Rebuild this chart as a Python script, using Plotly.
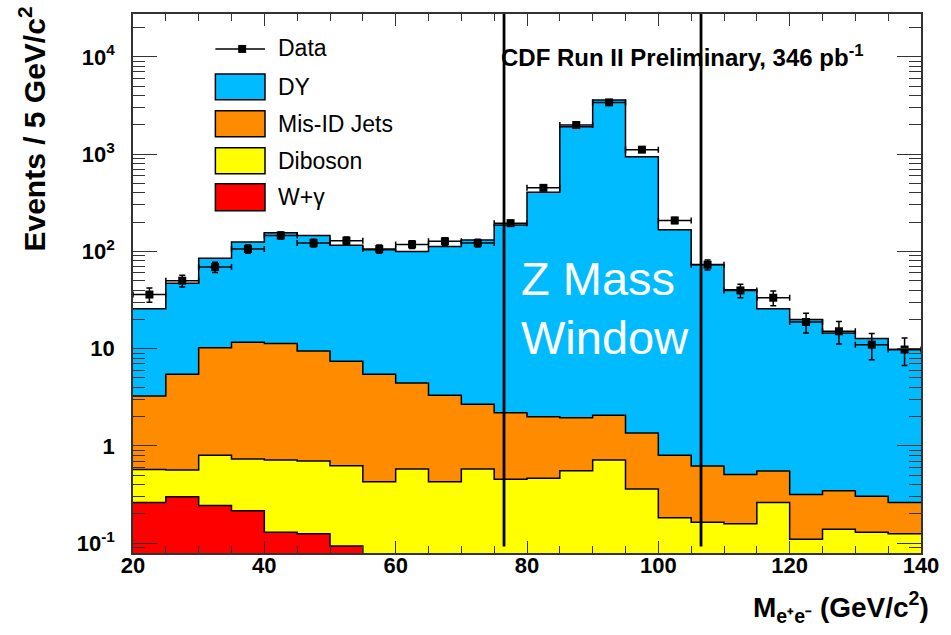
import numpy as np
import plotly.graph_objects as go

# ---------------- data ----------------
bin_edges = list(range(20, 145, 5))          # 25 edges, 24 bins of 5 GeV/c^2
bin_centers = [e + 2.5 for e in bin_edges[:-1]]

wgamma = [0.263, 0.30, 0.245, 0.216, 0.13, 0.125, 0.094, 0, 0, 0, 0, 0,
          0, 0, 0, 0, 0, 0, 0, 0, 0, 0, 0, 0]
diboson = [0.311, 0.265, 0.56, 0.517, 0.588, 0.575, 0.531, 0.428, 0.58, 0.428, 0.58, 0.454,
           0.465, 0.556, 0.718, 0.361, 0.183, 0.164, 0.159, 0.263, 0.11, 0.139, 0.13, 0.125]
misid = [2.68, 4.9, 9.4, 10.9, 10.6, 8.77, 6.8, 5.03, 3.87, 2.89, 2.11, 1.74,
         1.53, 1.39, 1.35, 1.0, 0.622, 0.457, 0.351, 0.289, 0.208, 0.208, 0.175, 0.138]
dy = [22.5, 41.5, 75, 113, 144, 136, 108, 98.5, 95.5, 108.7, 128.3, 184.8,
      403, 1912, 3592, 940.6, 166.2, 72.8, 39.9, 25.2, 19.6, 14.15, 12.4, 9.54]

data_vals = [36, 50, 69, 106, 146, 122, 129, 106, 118, 127, 122, 195,
             450, 1990, 3400, 1111, 208, 73, 39.7, 33.4, 18.8, 15.1, 11.0, 9.8]
data_errs = [6, 7, 8.3, 10.3, 12.1, 11, 11.4, 10.3, 10.9, 11.3, 11, 14,
             21, 45, 58, 33, 14.4, 8.5, 6.3, 5.8, 4.3, 3.9, 3.3, 3.1]

components = [("W+γ", wgamma, "#FF0000"),
              ("Diboson", diboson, "#FFFF00"),
              ("Mis-ID Jets", misid, "#FF8C00"),
              ("DY", dy, "#00BBFF")]

z_window = [76.5, 106.5]
y_tickvals = [0.1, 1, 10, 100, 1000, 10000]
y_ticktext = ["10<sup>-1</sup>", "1", "10", "10<sup>2</sup>", "10<sup>3</sup>", "10<sup>4</sup>"]
x_tickvals = [20, 40, 60, 80, 100, 120, 140]

# ---------------- figure ----------------
W, H = 951, 635
L, R, T, B = 133, 24, 13, 82
pw, ph = W - L - R, H - T - B
FONT = "Liberation Sans, Arial, sans-serif"


def px(x):
    return (x - L) / pw


def py(y):
    return (H - B - y) / ph


FLOOR = 1e-3
fig = go.Figure()

# baseline (below visible range) for stacked fills
fig.add_trace(go.Scatter(x=bin_edges, y=[FLOOR] * len(bin_edges), mode="lines",
                         line=dict(width=0, shape="hv"), hoverinfo="skip", showlegend=False))

cum = np.zeros(len(bin_centers))
for name, vals, col in components:
    cum = cum + np.array(vals, dtype=float)
    top = np.maximum(cum, FLOOR)
    yy = list(top) + [top[-1]]
    fig.add_trace(go.Scatter(x=bin_edges, y=yy, mode="lines", name=name,
                             line=dict(color="black", width=1.5, shape="hv"),
                             fill="tonexty", fillcolor=col, showlegend=False))

# data points
fig.add_trace(go.Scatter(
    x=bin_centers, y=data_vals, mode="markers", name="Data",
    marker=dict(symbol="square", size=8, color="black"),
    error_x=dict(type="constant", value=2.5, color="black", thickness=1.5, width=3),
    error_y=dict(type="data", array=data_errs, color="black", thickness=1.5, width=3),
    showlegend=False))

shapes = []
# Z mass window lines
for xv in z_window:
    shapes.append(dict(type="line", xref="x", yref="paper", x0=xv, x1=xv, y0=0.012, y1=1,
                       line=dict(color="black", width=2.8)))

# custom legend
leg_x0, leg_x1 = px(216), px(266)
shapes.append(dict(type="line", xref="paper", yref="paper", x0=leg_x0, x1=leg_x1,
                   y0=py(48), y1=py(48), line=dict(color="black", width=1.5)))
shapes.append(dict(type="rect", xref="paper", yref="paper", x0=px(239), x1=px(247),
                   y0=py(52), y1=py(44), fillcolor="black", line=dict(width=0)))
legend_boxes = [("DY", "#00BBFF", 73, 99), ("Mis-ID Jets", "#FF8C00", 110, 136),
                ("Diboson", "#FFFF00", 147, 173), ("W+γ", "#FF0000", 183, 210)]
annotations = [dict(text="Data", xref="paper", yref="paper", x=px(277), y=py(47),
                    xanchor="left", yanchor="middle", showarrow=False,
                    font=dict(family=FONT, size=23, color="black"))]
for name, col, t, b in legend_boxes:
    shapes.append(dict(type="rect", xref="paper", yref="paper", x0=leg_x0, x1=leg_x1,
                       y0=py(b), y1=py(t), fillcolor=col, line=dict(color="black", width=1.5)))
    annotations.append(dict(text=name, xref="paper", yref="paper", x=px(277), y=py((t + b) / 2),
                            xanchor="left", yanchor="middle", showarrow=False,
                            font=dict(family=FONT, size=23, color="black")))

annotations += [
    dict(text="<b>CDF Run II Preliminary, 346 pb<sup>-1</sup></b>", xref="paper", yref="paper",
         x=px(872), y=py(55), xanchor="right", yanchor="middle", showarrow=False,
         font=dict(family=FONT, size=24, color="black")),
    dict(text="Z Mass", xref="paper", yref="paper", x=px(522), y=py(278),
         xanchor="left", yanchor="middle", showarrow=False,
         font=dict(family=FONT, size=47, color="white")),
    dict(text="Window", xref="paper", yref="paper", x=px(522), y=py(337),
         xanchor="left", yanchor="middle", showarrow=False,
         font=dict(family=FONT, size=47, color="white")),
    dict(text="<b>Events / 5 GeV/c<sup>2</sup></b>", xref="paper", yref="paper",
         x=px(31), y=py(128), textangle=-90, xanchor="center", yanchor="middle",
         showarrow=False, font=dict(family=FONT, size=30, color="black")),
    dict(text="<b>M<sub>e⁺e⁻</sub> (GeV/c<sup>2</sup>)</b>", xref="paper", yref="paper",
         x=px(937), y=py(607), xanchor="right", yanchor="middle", showarrow=False,
         font=dict(family=FONT, size=28, color="black")),
]

tickfont = dict(family=FONT, size=22, color="black", weight="bold")

fig.update_layout(
    width=W, height=H, margin=dict(l=L, r=R, t=T, b=B),
    plot_bgcolor="white", paper_bgcolor="white",
    shapes=shapes, annotations=annotations, showlegend=False,
    xaxis=dict(range=[20, 140], tickvals=x_tickvals, ticks="inside", ticklen=12,
               tickwidth=1, tickcolor="#333", showline=True, linecolor="#333", linewidth=1.5,
               mirror="allticks", showgrid=False, zeroline=False, tickfont=tickfont,
               ticklabelstandoff=-8,
               minor=dict(dtick=5, ticks="inside", ticklen=7, tickcolor="#333", showgrid=False)),
    yaxis=dict(type="log", range=[-1.1, 4.44], tickvals=y_tickvals, ticktext=y_ticktext,
               ticks="inside", ticklen=24, tickwidth=1, tickcolor="#333", showline=True,
               linecolor="#333", linewidth=1.5, mirror="allticks", showgrid=False,
               zeroline=False, tickfont=tickfont, ticklabelstandoff=12,
               minor=dict(tickvals=[m * 10.0 ** e for e in range(-2, 5) for m in range(2, 10)],
                          ticks="inside", ticklen=12, tickcolor="#333", showgrid=False)),
)

fig.write_html("out.html", config={"displayModeBar": False},
               post_script="document.body.style.margin='0px';")
